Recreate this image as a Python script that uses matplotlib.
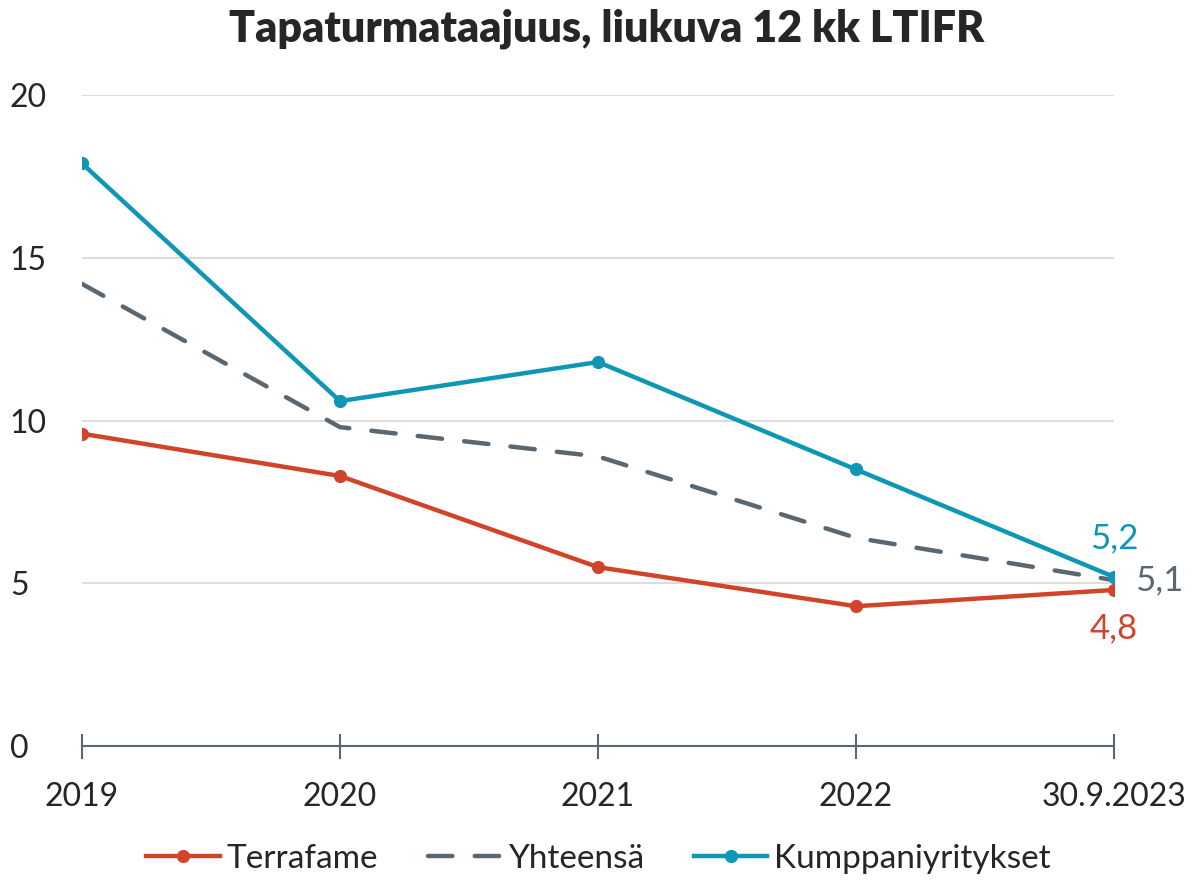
import matplotlib.pyplot as plt

plt.rcParams['font.family'] = ['Lato', 'DejaVu Sans']

categories = ['2019', '2020', '2021', '2022', '30.9.2023']
terrafame = [9.6, 8.3, 5.5, 4.3, 4.8]
yhteensa = [14.2, 9.8, 8.9, 6.4, 5.1]
kumppani = [17.9, 10.6, 11.8, 8.5, 5.2]
yticks = [0, 5, 10, 15, 20]

red = '#D0452A'
gray = '#5B6770'
teal = '#0E97B5'
text_col = '#262626'

fig = plt.figure(figsize=(11.97, 8.80), dpi=100)
ax = fig.add_axes([0.0685, 0.152, 0.8622, 0.740])

x = list(range(len(categories)))
ax.plot(x, terrafame, color=red, lw=3.2, marker='o', ms=8.5, label='Terrafame', zorder=3)
ax.plot(x, yhteensa, color=gray, lw=3.2, ls=(0, (5.5, 5)), dash_capstyle='round',
        label='Yhteensä', zorder=2)
ax.plot(x, kumppani, color=teal, lw=3.2, marker='o', ms=8.5, label='Kumppaniyritykset', zorder=4)

ax.set_xlim(0, len(categories) - 1)
ax.set_ylim(0, 20)
ax.set_yticks(yticks)
ax.set_xticks(x)
ax.set_xticklabels(categories)
ax.grid(axis='y', color='#D9D9D9', lw=1.3)
ax.set_axisbelow(True)
for s in ['top', 'right', 'left']:
    ax.spines[s].set_visible(False)
ax.spines['bottom'].set_color(gray)
ax.spines['bottom'].set_linewidth(1.5)
ax.tick_params(axis='x', direction='inout', length=18, width=1.5, color=gray,
               labelsize=23, labelcolor=text_col, pad=17)
ax.tick_params(axis='y', length=0, labelsize=23, labelcolor=text_col, pad=52)
for lbl in ax.get_yticklabels():
    lbl.set_horizontalalignment('left')

ax.annotate('5,2', (x[-1], kumppani[-1]), xytext=(0, 16), textcoords='offset points',
            ha='center', va='bottom', color=teal, fontsize=25)
ax.annotate('5,1', (x[-1], yhteensa[-1]), xytext=(15, 0), textcoords='offset points',
            ha='left', va='center', color=gray, fontsize=25, annotation_clip=False)
ax.annotate('4,8', (x[-1], terrafame[-1]), xytext=(0, -16), textcoords='offset points',
            ha='center', va='top', color=red, fontsize=25)

fig.suptitle('Tapaturmataajuus, liukuva 12 kk LTIFR', x=0.507, y=0.99, fontsize=31,
             fontweight='heavy', color=text_col)
fig.legend(loc='lower center', bbox_to_anchor=(0.5, -0.027), ncol=3, frameon=False,
           fontsize=24, handlelength=2.2, columnspacing=1.5, handletextpad=0.2,
           labelcolor=text_col)

fig.savefig('out.png', dpi=100)
